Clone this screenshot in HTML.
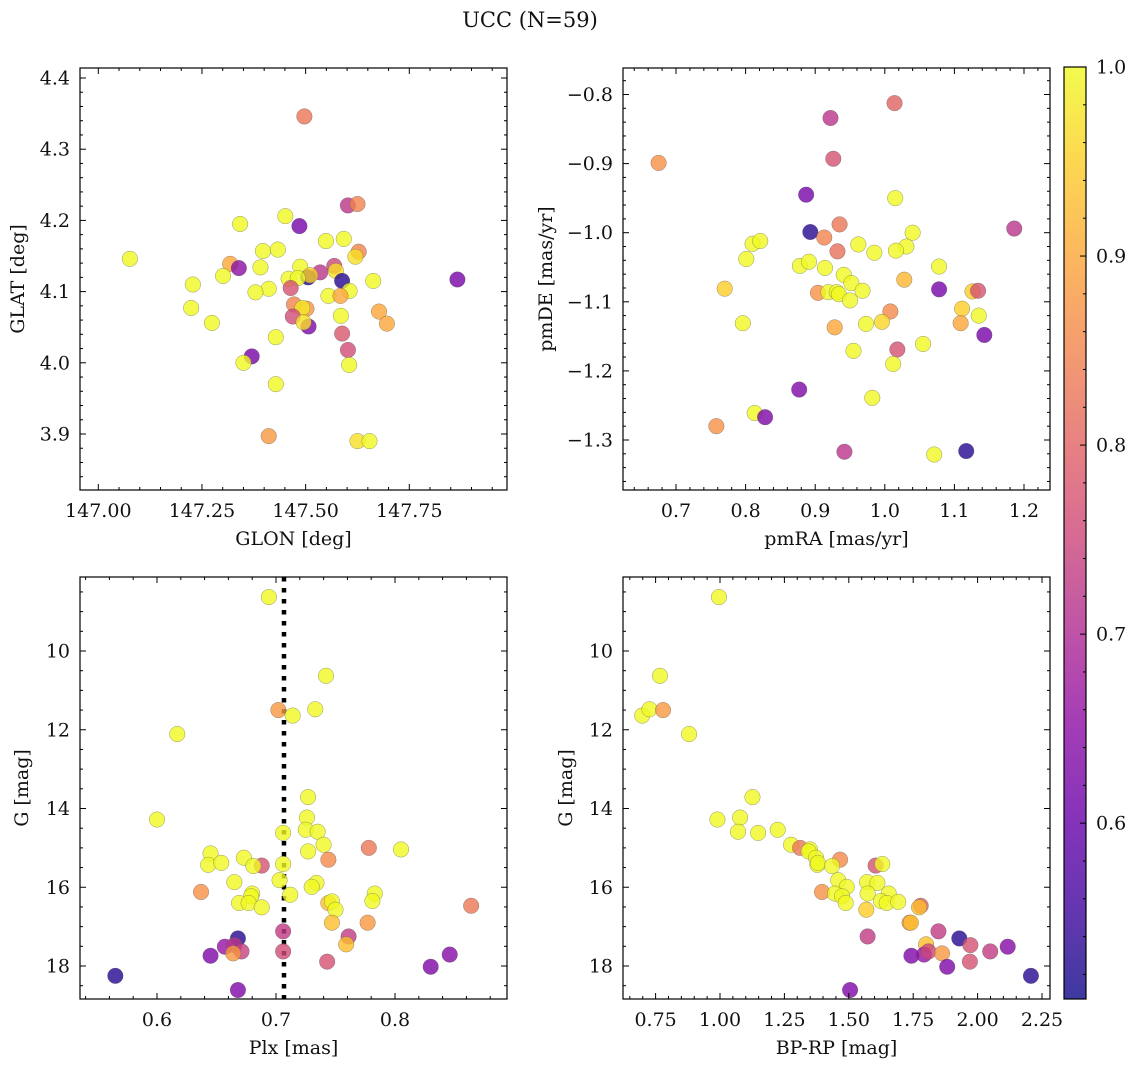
<!DOCTYPE html>
<html><head><meta charset="utf-8">
<style>
html,body{margin:0;padding:0;background:#fff;}
svg{display:block;font-family:"DejaVu Serif","Liberation Serif",serif;}
</style></head>
<body>
<svg id="fig" width="1136" height="1067" viewBox="0 0 1136 1067" xmlns="http://www.w3.org/2000/svg">
<text x="530" y="27" font-size="21" text-anchor="middle" fill="#111">UCC (N=59)</text>
</svg>
<script>
// ---- Panel 1: GLON vs GLAT ----
const glon = [147.497,147.602,147.625,147.451,147.485,147.342,147.076,147.549,147.592,147.397,147.433,147.628,147.620,147.318,147.339,147.391,147.301,147.487,147.569,147.535,147.573,147.506,147.511,147.459,147.481,147.464,147.588,147.228,147.663,147.866,147.411,147.379,147.606,147.555,147.584,147.224,147.472,147.502,147.492,147.677,147.469,147.274,147.507,147.495,147.696,147.585,147.428,147.588,147.602,147.370,147.350,147.605,147.428,147.411,147.625,147.654];
const glat = [4.346,4.221,4.223,4.206,4.192,4.195,4.146,4.171,4.174,4.157,4.159,4.156,4.149,4.139,4.133,4.134,4.122,4.135,4.136,4.127,4.129,4.120,4.123,4.118,4.119,4.105,4.115,4.110,4.115,4.117,4.104,4.099,4.101,4.094,4.094,4.077,4.082,4.076,4.077,4.072,4.065,4.056,4.051,4.057,4.055,4.066,4.036,4.041,4.018,4.009,4.000,3.997,3.970,3.897,3.890,3.890];
const prob1 = [0.83,0.72,0.85,1,0.62,1,1,1,1,1,1,0.85,0.97,0.9,0.65,1,1,1,0.75,0.72,0.97,0.52,0.95,1,1,0.77,0.53,1,1,0.62,1,1,1,1,0.9,1,0.85,0.88,0.98,0.9,0.76,1,0.63,0.97,0.9,1,1,0.78,0.76,0.62,1,1,1,0.88,0.97,1];
// ---- Panel 2: pmRA vs pmDE ----
const pmra = [1.014,0.922,0.926,0.675,0.887,1.015,0.935,0.893,1.186,1.040,0.913,0.810,0.821,0.962,1.031,0.932,0.985,1.016,0.801,0.878,0.891,0.914,1.078,0.941,0.952,1.028,0.770,0.904,0.919,0.931,0.934,0.968,0.950,1.078,1.126,1.134,1.008,1.111,1.109,0.796,0.928,0.973,0.996,1.135,1.143,0.955,1.055,1.018,1.012,0.877,0.982,0.813,0.828,0.758,0.942,1.071,1.117];
const pmde = [-0.8125,-0.834,-0.893,-0.899,-0.945,-0.950,-0.988,-0.999,-0.994,-1.000,-1.007,-1.016,-1.012,-1.017,-1.020,-1.027,-1.029,-1.026,-1.038,-1.048,-1.042,-1.051,-1.049,-1.061,-1.073,-1.068,-1.081,-1.087,-1.086,-1.086,-1.089,-1.084,-1.098,-1.082,-1.085,-1.084,-1.114,-1.110,-1.131,-1.131,-1.137,-1.132,-1.129,-1.120,-1.148,-1.171,-1.161,-1.169,-1.190,-1.227,-1.239,-1.261,-1.267,-1.280,-1.317,-1.321,-1.316];
const prob2 = [0.8,0.72,0.77,0.87,0.62,1,0.83,0.53,0.72,1,0.85,1,1,1,1,0.82,1,1,1,1,1,1,1,1,1,0.92,0.95,0.87,1,1,1,1,1,0.62,0.95,0.77,0.86,0.95,0.9,1,0.9,1,0.96,1,0.62,1,1,0.77,1,0.63,1,1,0.63,0.87,0.72,1,0.53];
// ---- Panel 3: Plx vs G ----
const plx = [0.694,0.742,0.702,0.714,0.733,0.617,0.727,0.600,0.726,0.725,0.735,0.706,0.740,0.778,0.805,0.645,0.727,0.744,0.673,0.643,0.654,0.688,0.681,0.706,0.703,0.665,0.734,0.730,0.637,0.680,0.679,0.712,0.783,0.781,0.669,0.677,0.744,0.747,0.688,0.750,0.864,0.747,0.777,0.706,0.761,0.759,0.668,0.657,0.665,0.671,0.664,0.706,0.645,0.846,0.743,0.830,0.565,0.668];
const gmag3 = [8.63,10.63,11.50,11.64,11.48,12.11,13.71,14.28,14.23,14.54,14.59,14.62,14.92,15.00,15.04,15.14,15.09,15.30,15.25,15.43,15.38,15.45,15.46,15.41,15.82,15.87,15.89,15.99,16.12,16.16,16.23,16.19,16.16,16.35,16.40,16.40,16.40,16.36,16.51,16.57,16.47,16.90,16.90,17.12,17.25,17.45,17.30,17.51,17.47,17.63,17.68,17.63,17.74,17.71,17.89,18.02,18.25,18.61];
const prob3 = [1,1,0.88,1,1,1,1,1,1,1,1,1,1,0.83,1,1,1,0.86,1,1,1,0.77,1,1,1,1,1,1,0.87,1,1,1,1,1,1,1,0.93,1,1,1,0.83,0.93,0.88,0.73,0.73,0.93,0.53,0.66,0.72,0.74,0.88,0.76,0.63,0.64,0.77,0.63,0.53,0.63];
const plxLine = 0.7067;
// ---- Panel 4: BP-RP vs G ----
const bprp = [0.996,0.767,0.698,0.726,0.779,0.880,1.126,0.990,1.078,1.070,1.148,1.224,1.276,1.311,1.349,1.344,1.373,1.466,1.378,1.380,1.435,1.604,1.630,1.459,1.571,1.611,1.492,1.396,1.446,1.474,1.573,1.655,1.625,1.488,1.647,1.692,1.779,1.773,1.568,1.736,1.741,1.573,1.848,1.929,1.800,1.972,2.049,2.117,1.743,1.792,1.809,1.862,1.970,1.882,2.207,1.505];
const gmag4 = [8.63,10.63,11.64,11.48,11.50,12.11,13.71,14.28,14.23,14.59,14.62,14.54,14.92,15.00,15.04,15.09,15.25,15.30,15.43,15.38,15.46,15.45,15.41,15.82,15.87,15.89,15.99,16.12,16.16,16.23,16.16,16.16,16.35,16.40,16.40,16.37,16.47,16.51,16.57,16.90,16.90,17.25,17.12,17.30,17.45,17.47,17.63,17.51,17.74,17.71,17.63,17.68,17.89,18.02,18.25,18.61];
const prob4 = [1,1,1,1,0.88,1,1,1,1,1,1,1,1,0.83,1,1,1,0.86,1,1,1,0.77,1,1,1,1,1,0.87,1,1,1,1,1,1,1,1,0.8,0.93,0.95,0.88,0.93,0.73,0.73,0.53,0.93,0.77,0.73,0.64,0.63,0.66,0.75,0.88,0.77,0.63,0.53,0.63];
// ---- colorbar ----
const cbTicks = [0.6,0.7,0.8,0.9,1.0];
const cbMin = 0.507, cbMax = 1.0;

const FS = 19;
const NS = "http://www.w3.org/2000/svg";
const svg = document.getElementById('fig');
function mk(tag, attrs, parent){
  const e = document.createElementNS(NS, tag);
  for (const k in attrs) e.setAttribute(k, attrs[k]);
  (parent||svg).appendChild(e);
  return e;
}
const plasma = [[13,8,135],[65,4,157],[106,0,168],[143,13,164],[177,42,144],[204,71,120],[225,100,98],[242,132,75],[252,166,54],[252,206,37],[240,249,33]];
function cmap(v){
  let t = (v-cbMin)/(cbMax-cbMin); t = Math.max(0,Math.min(1,t));
  const f = t*10, i = Math.min(9, Math.floor(f)), r = f-i;
  const a = plasma[i], b = plasma[i+1];
  return 'rgb('+a.map((x,k)=>Math.round(x+(b[k]-x)*r)).join(',')+')';
}
function lin(d0,d1,p0,p1){ return v => p0 + (v-d0)*(p1-p0)/(d1-d0); }

function panel(o){
  const g = mk('g', {});
  
  
  const L=o.L,R=o.R,T=o.T,B=o.B;
  const sx = lin(o.xd[0],o.xd[1],o.xp[0],o.xp[1]);
  const sy = lin(o.yd[0],o.yd[1],o.yp[0],o.yp[1]);
  const clipId = 'clip-'+o.name;
  const cp = mk('clipPath',{id:clipId},g);
  mk('rect',{x:L,y:T,width:R-L,height:B-T},cp);
  const pts = mk('g',{'clip-path':'url(#'+clipId+')'},g);
  
  
  if (o.vline !== undefined){
    const ln = mk('line',{x1:sx(o.vline),x2:sx(o.vline),y1:T,y2:B,stroke:'#000','stroke-width':4.5,'stroke-dasharray':'4.5 6.5'},pts);
    
    
  }
  for (let i=0;i<o.xs.length;i++){
    const c = mk('circle',{cx:sx(o.xs[i]),cy:sy(o.ys[i]),r:7.8,fill:cmap(o.cs[i]),'fill-opacity':0.8,stroke:'#555','stroke-opacity':0.6,'stroke-width':0.5},pts);
    
    
  }
  const tk = mk('g',{stroke:'#000','stroke-width':1},g);
  
  
  function xt(v, len){
    const x=sx(v); if (x<L-0.5||x>R+0.5) return;
    mk('line',{x1:x,x2:x,y1:B,y2:B-len},tk); mk('line',{x1:x,x2:x,y1:T,y2:T+len},tk);
  }
  function yt(v, len){
    const y=sy(v); if (y<T-0.5||y>B+0.5) return;
    mk('line',{x1:L,x2:L+len,y1:y,y2:y},tk); mk('line',{x1:R,x2:R-len,y1:y,y2:y},tk);
  }
  for (let k=-200;k<=200;k++){ const v=o.xMaj0+k*o.xMinStep; xt(v, (k%o.xSub===0)?6:3); }
  for (let k=-200;k<=200;k++){ const v=o.yMaj0+k*o.yMinStep; yt(v, (k%o.ySub===0)?6:3); }
  mk('rect',{x:L,y:T,width:R-L,height:B-T,fill:'none',stroke:'#000','stroke-width':1.2},g);
  o.xTicks.forEach((v,i)=>{
    const t=mk('text',{x:sx(v),y:B+27,'font-size':FS,'text-anchor':'middle',fill:'#111'},g);
    t.textContent=o.xLabels[i];
    
    
  });
  o.yTicks.forEach((v,i)=>{
    const t=mk('text',{x:L-10,y:sy(v)+6.5,'font-size':FS,'text-anchor':'end',fill:'#111'},g);
    t.textContent=o.yLabels[i];
    
    
  });
  const xl=mk('text',{x:(L+R)/2,y:B+55,'font-size':FS,'text-anchor':'middle',fill:'#111'},g);
  xl.textContent=o.xTitle;
  
  
  const yx=o.yTitleX, yy=(T+B)/2;
  const yl=mk('text',{x:yx,y:yy,'font-size':FS,'text-anchor':'middle',fill:'#111',transform:'rotate(-90 '+yx+' '+yy+')'},g);
  yl.textContent=o.yTitle;
  
  
}

panel({name:'glon-glat-panel',L:80,R:507,T:68,B:490,
  xd:[147,147.75],xp:[98.3,409.3],yd:[4.4,3.9],yp:[78,434],
  xs:glon,ys:glat,cs:prob1,
  xMaj0:147,xMinStep:0.05,xSub:5,yMaj0:4.0,yMinStep:0.02,ySub:5,
  xTicks:[147,147.25,147.5,147.75],xLabels:['147.00','147.25','147.50','147.75'],
  yTicks:[4.4,4.3,4.2,4.1,4.0,3.9],yLabels:['4.4','4.3','4.2','4.1','4.0','3.9'],
  xTitle:'GLON [deg]',yTitle:'GLAT [deg]',yTitleX:24});
panel({name:'pm-panel',L:623,R:1050,T:68,B:490,
  xd:[0.7,1.2],xp:[676,1024],yd:[-0.8,-1.3],yp:[94.5,440],
  xs:pmra,ys:pmde,cs:prob2,
  xMaj0:1.0,xMinStep:0.02,xSub:5,yMaj0:-1.0,yMinStep:0.02,ySub:5,
  xTicks:[0.7,0.8,0.9,1.0,1.1,1.2],xLabels:['0.7','0.8','0.9','1.0','1.1','1.2'],
  yTicks:[-0.8,-0.9,-1.0,-1.1,-1.2,-1.3],yLabels:['\u22120.8','\u22120.9','\u22121.0','\u22121.1','\u22121.2','\u22121.3'],
  xTitle:'pmRA [mas/yr]',yTitle:'pmDE [mas/yr]',yTitleX:552});
panel({name:'plx-g-panel',L:80,R:507,T:577,B:999,
  xd:[0.6,0.8],xp:[157,395],yd:[10,18],yp:[651,966],
  xs:plx,ys:gmag3,cs:prob3,vline:plxLine,
  xMaj0:0.6,xMinStep:0.02,xSub:5,yMaj0:10,yMinStep:0.5,ySub:4,
  xTicks:[0.6,0.7,0.8],xLabels:['0.6','0.7','0.8'],
  yTicks:[10,12,14,16,18],yLabels:['10','12','14','16','18'],
  xTitle:'Plx [mas]',yTitle:'G [mag]',yTitleX:28});
panel({name:'cmd-panel',L:623,R:1050,T:577,B:999,
  xd:[1.0,2.0],xp:[720,977.6],yd:[10,18],yp:[651,966],
  xs:bprp,ys:gmag4,cs:prob4,
  xMaj0:1.0,xMinStep:0.05,xSub:5,yMaj0:10,yMinStep:0.5,ySub:4,
  xTicks:[0.75,1.0,1.25,1.5,1.75,2.0,2.25],xLabels:['0.75','1.00','1.25','1.50','1.75','2.00','2.25'],
  yTicks:[10,12,14,16,18],yLabels:['10','12','14','16','18'],
  xTitle:'BP-RP [mag]',yTitle:'G [mag]',yTitleX:572});

(function(){
  const g = mk('g',{});
  
  
  const L=1064,R=1086,T=67,B=999;
  const defs = mk('defs',{},g);
  const lg = mk('linearGradient',{id:'cbgrad',x1:0,y1:1,x2:0,y2:0},defs);
  for (let i=0;i<=10;i++){ mk('stop',{offset:(i*10)+'%','stop-color':'rgb('+plasma[i].join(',')+')'},lg); }
  mk('rect',{x:L,y:T,width:R-L,height:B-T,fill:'url(#cbgrad)','fill-opacity':0.8},g);
  const sy = lin(cbMin,cbMax,B,T);
  for (let k=0;k<=30;k++){
    const v=0.5+k*0.02; const y=sy(v); if (y<T||y>B) continue;
    const maj = (k%5===0);
    mk('line',{x1:R,x2:R-(maj?6:3),y1:y,y2:y,stroke:'#000','stroke-width':1},g);
  }
  cbTicks.forEach(v=>{
    const t=mk('text',{x:R+10,y:sy(v)+6.5,'font-size':FS,fill:'#111'},g);
    t.textContent=v.toFixed(1);
    
    
  });
  mk('rect',{x:L,y:T,width:R-L,height:B-T,fill:'none',stroke:'#000','stroke-width':1.2},g);
})();
</script>
</body></html>
